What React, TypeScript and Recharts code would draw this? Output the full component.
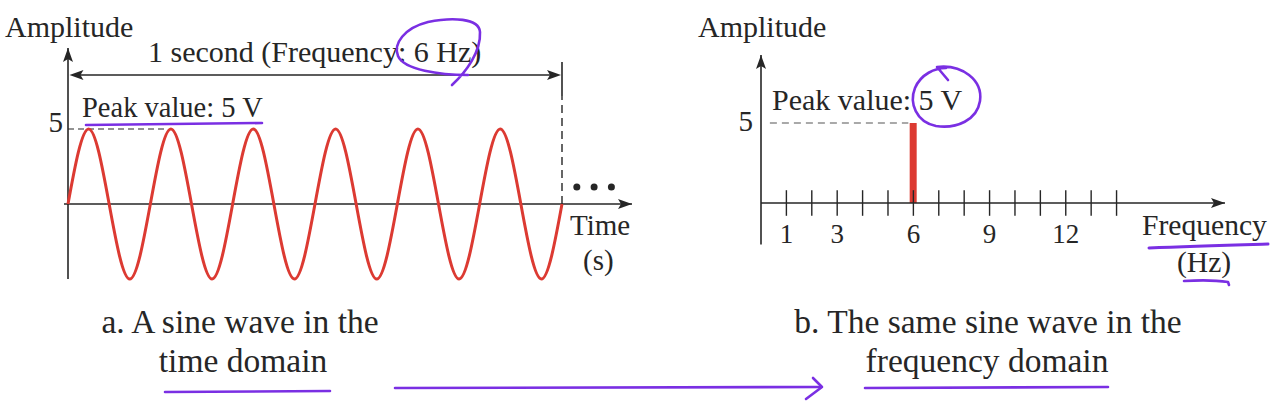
import React from 'react'
import {
  ComposedChart,
  LineChart,
  Line,
  Bar,
  XAxis,
  YAxis,
  ReferenceLine,
  ReferenceDot,
} from 'recharts'

// time domain: one second, sampled at every quarter cycle (6 Hz)
const waveTime = [
  0, 0.0417, 0.0833, 0.125, 0.1667, 0.2083, 0.25, 0.2917, 0.3333, 0.375, 0.4167, 0.4583, 0.5,
  0.5417, 0.5833, 0.625, 0.6667, 0.7083, 0.75, 0.7917, 0.8333, 0.875, 0.9167, 0.9583, 1,
]
const waveVolts = [0, 5, 0, -5, 0, 5, 0, -5, 0, 5, 0, -5, 0, 5, 0, -5, 0, 5, 0, -5, 0, 5, 0, -5, 0]
const moreDots = [1.03, 1.065, 1.1]

// frequency domain
const freqs = [1, 2, 3, 4, 5, 6, 7, 8, 9, 10, 11, 12, 13, 14]
const freqAmps = [0, 0, 0, 0, 0, 5, 0, 0, 0, 0, 0, 0, 0, 0]
const freqLabels = [1, 3, 6, 9, 12]

const waveRows = waveTime.map((t, i) => ({ t, v: waveVolts[i] }))
const freqRows = freqs.map((f, i) => ({ freq: f, amp: freqAmps[i] }))

const INK = '#262626'
const RED = '#dc3a32'
const PURPLE = '#7a2fe3'
const SERIF = "'Liberation Serif', 'Times New Roman', serif"

const arrow = (dir: 'up' | 'right' | 'left') => (p: any) => {
  const { cx, cy } = p
  let pts = ''
  if (dir === 'up') pts = `${cx},${cy} ${cx - 5},${cy + 14} ${cx},${cy + 11} ${cx + 5},${cy + 14}`
  if (dir === 'right') pts = `${cx},${cy} ${cx - 14},${cy - 5} ${cx - 11},${cy} ${cx - 14},${cy + 5}`
  if (dir === 'left') pts = `${cx},${cy} ${cx + 14},${cy - 5} ${cx + 11},${cy} ${cx + 14},${cy + 5}`
  return <polygon points={pts} fill={INK} />
}

const dot = (p: any) => <circle cx={p.cx} cy={p.cy} r={3.5} fill={INK} />

function TimeDomain() {
  return (
    <LineChart
      width={640}
      height={403}
      data={waveRows}
      margin={{ top: 48, right: 8, bottom: 124, left: 34 }}
    >
      <XAxis dataKey="t" type="number" domain={[-0.0081, 1.1417]} hide />
      <YAxis
        type="number"
        domain={[-5, 10.4]}
        ticks={[5]}
        width={30}
        axisLine={false}
        tickLine={false}
        tickSize={0}
        tickMargin={0}
        tick={(p: any) => (
          <text x={p.x - 1} y={p.y + 3} textAnchor="end" fontSize={29} fill={INK} fontFamily={SERIF}>
            {p.payload.value}
          </text>
        )}
      />
      {/* axes */}
      <ReferenceLine x={0} stroke={INK} strokeWidth={1.6} />
      <ReferenceLine y={0} stroke={INK} strokeWidth={1.6} />
      <ReferenceDot x={0} y={10.4} ifOverflow="visible" shape={arrow('up')} />
      <ReferenceDot x={1.1417} y={0} ifOverflow="visible" shape={arrow('right')} />
      {/* peak level */}
      <ReferenceLine
        segment={[{ x: 0, y: 5 }, { x: 0.2, y: 5 }]}
        stroke={INK}
        strokeWidth={1.2}
        strokeDasharray="6 4"
      />
      {/* one second span */}
      <ReferenceLine segment={[{ x: 0.01, y: 8.6 }, { x: 0.99, y: 8.6 }]} stroke={INK} strokeWidth={1.4} />
      <ReferenceDot x={0.003} y={8.6} shape={arrow('left')} />
      <ReferenceDot x={0.998} y={8.6} shape={arrow('right')} />
      <ReferenceLine segment={[{ x: 1, y: 7.2 }, { x: 1, y: 9.47 }]} stroke={INK} strokeWidth={1.6} />
      <ReferenceLine
        segment={[{ x: 1, y: 0 }, { x: 1, y: 7.2 }]}
        stroke={INK}
        strokeWidth={1.4}
        strokeDasharray="8 5"
      />
      {moreDots.map((t) => (
        <ReferenceDot key={t} x={t} y={1.13} shape={dot} />
      ))}
      <Line
        type="natural"
        dataKey="v"
        stroke={RED}
        strokeWidth={3}
        dot={false}
        isAnimationActive={false}
      />
    </LineChart>
  )
}

function FrequencyDomain() {
  return (
    <ComposedChart
      width={640}
      height={403}
      data={freqRows}
      margin={{ top: 55, right: 55, bottom: 170, left: 91 }}
    >
      <XAxis
        dataKey="freq"
        type="number"
        domain={[0, 18.27]}
        ticks={freqLabels}
        height={30}
        axisLine={{ stroke: INK, strokeWidth: 1.6 }}
        tickLine={false}
        tickSize={0}
        tickMargin={0}
        tick={(p: any) => (
          <text x={p.x} y={p.y + 40} textAnchor="middle" fontSize={27} fill={INK} fontFamily={SERIF}>
            {p.payload.value}
          </text>
        )}
      />
      <YAxis
        type="number"
        domain={[0, 9.25]}
        ticks={[5]}
        width={30}
        axisLine={false}
        tickLine={false}
        tickSize={0}
        tickMargin={0}
        tick={(p: any) => (
          <text x={p.x - 8} y={p.y + 8} textAnchor="end" fontSize={29} fill={INK} fontFamily={SERIF}>
            {p.payload.value}
          </text>
        )}
      />
      <ReferenceLine
        segment={[{ x: 0, y: -2.6 }, { x: 0, y: 9.25 }]}
        ifOverflow="visible"
        stroke={INK}
        strokeWidth={1.6}
      />
      <ReferenceDot x={0} y={9.25} ifOverflow="visible" shape={arrow('up')} />
      <ReferenceDot x={18.27} y={0} ifOverflow="visible" shape={arrow('right')} />
      {freqs.map((f) => (
        <ReferenceLine
          key={f}
          segment={[{ x: f, y: -0.8 }, { x: f, y: 0.8 }]}
          ifOverflow="visible"
          stroke={INK}
          strokeWidth={1.4}
        />
      ))}
      <ReferenceLine
        segment={[{ x: 0.35, y: 5 }, { x: 5.8, y: 5 }]}
        stroke="#555"
        strokeWidth={1.2}
        strokeDasharray="7 5"
      />
      <Bar dataKey="amp" fill={RED} barSize={7} isAnimationActive={false} />
    </ComposedChart>
  )
}

function Notes() {
  const t = { fill: INK, fontFamily: SERIF }
  const pen = {
    fill: 'none',
    stroke: PURPLE,
    strokeWidth: 2.6,
    strokeLinecap: 'round' as const,
    strokeLinejoin: 'round' as const,
  }
  return (
    <svg
      width={1280}
      height={403}
      style={{ position: 'absolute', left: 0, top: 0, pointerEvents: 'none' }}
    >
      <text x={5} y={37} fontSize={30} {...t}>Amplitude</text>
      <text x={148} y={62} fontSize={30} {...t}>1 second (Frequency: 6 Hz)</text>
      <text x={82} y={117} fontSize={28.5} {...t}>Peak value: 5 V</text>
      <text x={570} y={235} fontSize={29} {...t}>Time</text>
      <text x={583} y={270} fontSize={29} {...t}>(s)</text>

      <text x={698} y={37} fontSize={30} {...t}>Amplitude</text>
      <text x={772} y={110} fontSize={30} {...t}>Peak value: 5 V</text>
      <text x={1142} y={235} fontSize={29.6} {...t}>Frequency</text>
      <text x={1177} y={272} fontSize={29.6} {...t}>(Hz)</text>

      <text x={240} y={333} fontSize={33.5} textAnchor="middle" {...t}>a. A sine wave in the</text>
      <text x={243} y={372} fontSize={33.5} textAnchor="middle" {...t}>time domain</text>
      <text x={988} y={333} fontSize={33.5} textAnchor="middle" {...t}>b. The same sine wave in the</text>
      <text x={987} y={372} fontSize={33.5} textAnchor="middle" {...t}>frequency domain</text>

      {/* handwritten marks */}
      <path
        d="M452 85 C466 72 481 52 480 32 C479 18 452 17 428 22 C404 28 393 44 398 56 C404 70 440 75 468 75"
        {...pen}
      />
      <path d="M86 125 C140 124 200 124 262 123" {...pen} />
      <path
        d="M948 80 L937 67 C962 64 983 80 980 101 C977 120 957 129 936 126 C916 122 909 103 915 88 C921 74 935 68 946 68"
        {...pen}
      />
      <path d="M1149 248 C1190 246 1230 245 1268 244" {...pen} strokeWidth={3} />
      <path d="M1184 281 C1200 280 1215 280 1228 282 L1229 285" {...pen} />
      <path d="M165 392 L330 391" {...pen} />
      <path d="M395 388 L821 387" {...pen} />
      <path d="M813 378 L822 387 L806 399" {...pen} />
      <path d="M865 388 L1108 387" {...pen} />
    </svg>
  )
}

export default function App() {
  return (
    <div
      style={{
        position: 'absolute',
        left: 0,
        top: 0,
        width: 1280,
        height: 403,
        background: '#fff',
        overflow: 'hidden',
      }}
    >
      <div style={{ position: 'absolute', left: 0, top: 0 }}>
        <TimeDomain />
      </div>
      <div style={{ position: 'absolute', left: 640, top: 0 }}>
        <FrequencyDomain />
      </div>
      <Notes />
    </div>
  )
}
